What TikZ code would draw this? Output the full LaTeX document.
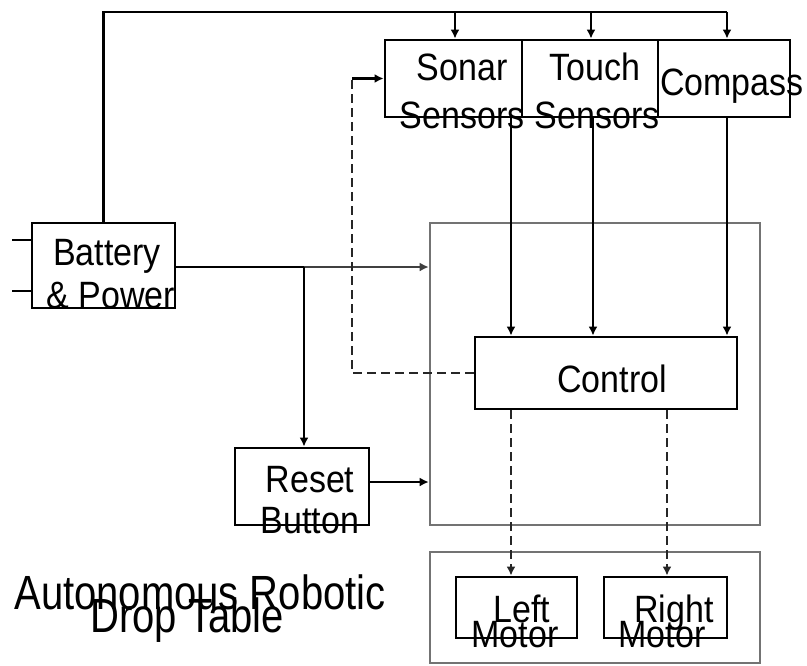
\documentclass[tikz,border=0pt]{standalone}
\usepackage{fontspec}
\setmainfont{Liberation Sans}
\usetikzlibrary{arrows.meta}
\newcommand\vsc[1]{\scalebox{1}[1.12]{#1}}
\newcommand\tsc[1]{\scalebox{1}[1.2]{#1}}
\begin{document}
\begin{tikzpicture}[x=1pt,y=-1pt,
  box/.style={draw=black,line width=2.8pt,fill=white,inner sep=0pt},
  grp/.style={draw=black!55,line width=2.6pt,inner sep=0pt},
  lbl/.style={inner sep=0pt,anchor=base,font=\fontsize{34}{34}\selectfont},
  ttl/.style={inner sep=0pt,anchor=base,font=\fontsize{40}{40}\selectfont},
  conn/.style={line width=2.6pt},
  arr/.style={conn,-{Latex[length=9pt,width=9pt]}},
  dsh/.style={conn,dash pattern=on 9pt off 5pt}]
\useasboundingbox (0,0) rectangle (807,665);

% group boxes
\node[grp,minimum width=330pt,minimum height=302pt] (grp1) at (595,374) {};
\node[grp,minimum width=330pt,minimum height=111pt] (grp2) at (595,607.5) {};

% boxes
\node[box,minimum width=143pt,minimum height=85pt] (bat) at (103.5,265.5) {};
\node[box,minimum width=137pt,minimum height=77pt] (sonar) at (453.5,78.5) {};
\node[box,minimum width=136pt,minimum height=77pt] (touch) at (590,78.5) {};
\node[box,minimum width=132pt,minimum height=77pt] (compass) at (724,78.5) {};
\node[box,minimum width=262pt,minimum height=72pt] (control) at (606,373) {};
\node[box,minimum width=134pt,minimum height=77pt] (reset) at (302,486.5) {};
\node[box,minimum width=121pt,minimum height=61pt] (lmotor) at (516.5,607.5) {};
\node[box,minimum width=123pt,minimum height=61pt] (rmotor) at (665.5,607.5) {};

% coordinates
\coordinate (t0) at (103.5,12);
\coordinate (t1) at (455,12);
\coordinate (t2) at (591,12);
\coordinate (t3) at (727,12);
\coordinate (c1) at (511,0);
\coordinate (c2) at (593,0);
\coordinate (c3) at (727,0);
\coordinate (br) at (304,267);
\coordinate (dc) at (352,78.5);
\coordinate (m1) at (511,0);
\coordinate (m2) at (667,0);
\coordinate (s1) at (12,240);
\coordinate (s2) at (12,291);
\coordinate (be) at (175,267);
\coordinate (re) at (369,482);

% power bus
\draw[conn] (bat.north) -- (t0) -- (t3);
\draw[arr] (t1) -- (t1 |- sonar.north);
\draw[arr] (t2) -- (t2 |- touch.north);
\draw[arr] (t3) -- (t3 |- compass.north);

% stubs on battery
\draw[conn] (s1) -- (s1 -| bat.west);
\draw[conn] (s2) -- (s2 -| bat.west);

% sensors to control
\draw[arr] (sonar.south -| c1) -- (control.north -| c1);
\draw[arr] (touch.south -| c2) -- (control.north -| c2);
\draw[arr] (compass.south -| c3) -- (control.north -| c3);

% battery to control group and reset
\draw[conn] (be) -- (br);
\draw[arr,black!75,line width=2pt] (br) -- (br -| grp1.west);
\draw[arr] (br) -- (br |- reset.north);
\draw[arr] (re) -- (re -| grp1.west);

% dashed feedback control -> sonar
\draw[dsh,black!85] (control.west) -| (dc);
\draw[arr] (dc) -- (sonar.west);

% control to motors
\draw[dsh,black!85,-{Latex[length=9pt,width=9pt]}] (control.south -| m1) -- (lmotor.north -| m1);
\draw[dsh,black!85,-{Latex[length=9pt,width=9pt]}] (control.south -| m2) -- (rmotor.north -| m2);

% labels
\node[lbl] (tbat1) at (107,265) {\vsc{Battery}};
\node[lbl] (tbat2) at (111,308) {\vsc{\& Power}};
\node[lbl] (tson1) at (462,80) {\vsc{Sonar}};
\node[lbl] (tson2) at (462,128) {\vsc{Sensors}};
\node[lbl] (ttou1) at (595,80) {\vsc{Touch}};
\node[lbl] (ttou2) at (597,128) {\vsc{Sensors}};
\node[lbl] (tcom) at (732,95) {\vsc{Compass}};
\node[lbl] (tcon) at (612,392) {\vsc{Control}};
\node[lbl] (tres1) at (310,492) {\vsc{Reset}};
\node[lbl] (tres2) at (310,533) {\vsc{Button}};
\node[lbl] (tlm1) at (522,622) {\vsc{Left}};
\node[lbl] (tlm2) at (515,647) {\vsc{Motor}};
\node[lbl] (trm1) at (674,622) {\vsc{Right}};
\node[lbl] (trm2) at (662,647) {\vsc{Motor}};
\node[ttl] (ttl1) at (200,609) {\tsc{Autonomous Robotic}};
\node[ttl] (ttl2) at (187,632) {\tsc{Drop Table}};
\end{tikzpicture}
\end{document}
